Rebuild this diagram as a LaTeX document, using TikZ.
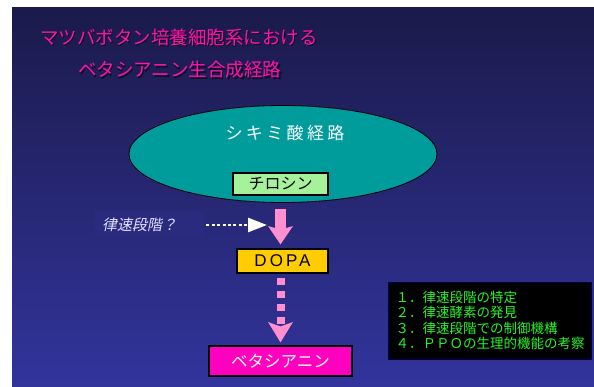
\documentclass[tikz,border=0pt]{standalone}
\usepackage{fontspec}
\usetikzlibrary{shapes.geometric,arrows.meta,calc}
\newfontfamily\jp{Noto Sans CJK JP}
\newfontfamily\jpsp[LetterSpace=20]{Noto Sans CJK JP}
\newfontfamily\lat[LetterSpace=18]{Liberation Sans}
\definecolor{bgtop}{HTML}{1B1A4B}
\definecolor{bgbot}{HTML}{32349C}
\definecolor{tealc}{HTML}{009B9B}
\definecolor{tyrc}{HTML}{A6F29A}
\definecolor{dopac}{HTML}{FFCC00}
\definecolor{betac}{HTML}{FF00BF}
\definecolor{pinkc}{HTML}{FF8FCF}
\definecolor{greenc}{HTML}{2AF02A}
\definecolor{titlec}{HTML}{FF14A8}
\definecolor{labbg}{HTML}{2A2B7E}
\definecolor{shadowc}{HTML}{10081E}
\tikzset{
  titletext/.style={anchor=west,inner sep=0pt,font=\jp\fontsize{18.5pt}{20pt}\selectfont},
  sbox/.style={draw=black,line width=1.1pt,inner sep=0pt},
}
\begin{document}
\begin{tikzpicture}[x=1pt,y=-1pt]
\useasboundingbox (0,0) rectangle (594,387);
\fill[white] (0,0) rectangle (594,387);
\shade[top color=bgtop,bottom color=bgbot] (12,8) rectangle (594,387);
% title
\node[titletext,text=shadowc] (t1s) at (41.2,38.2) {マツバボタン培養細胞系における};
\node[titletext,text=titlec] (t1) at (40,37) {マツバボタン培養細胞系における};
\node[titletext,text=shadowc] (t2s) at (79.2,71.2) {ベタシアニン生合成経路};
\node[titletext,text=titlec] (t2) at (78,70) {ベタシアニン生合成経路};
% ellipse
\node[ellipse,draw=black,line width=0.8pt,fill=tealc,minimum width=308pt,minimum height=97pt,inner sep=0pt] (ell) at (283,154) {};
\node[text=white,font=\jpsp\fontsize{17pt}{19pt}\selectfont,inner sep=0pt] (shik) at (285,133) {シキミ酸経路};
\node[sbox,fill=tyrc,minimum width=95pt,minimum height=22pt,font=\jp\fontsize{16pt}{18pt}\selectfont] (tyr) at (280.5,184) {チロシン};
\node[sbox,fill=dopac,minimum width=91pt,minimum height=24pt,font=\lat\fontsize{17pt}{19pt}\selectfont] (dopa) at (282.5,261) {DOPA};
\node[sbox,fill=betac,text=white,minimum width=143pt,minimum height=30pt,font=\jp\fontsize{16.5pt}{18pt}\selectfont] (beta) at (280.5,361) {ベタシアニン};
% label
\node[fill=labbg,anchor=west,minimum width=109pt,minimum height=27pt,inner xsep=7pt,inner ysep=0pt,text width=95pt,align=left,text=white!88!blue,font=\jp\addfontfeature{FakeSlant=0.2}\fontsize{15pt}{17pt}\selectfont] (lab) at (95,225) {律速段階？};
\coordinate (hit) at (267,225);
% arrows
\draw[pinkc,line width=11pt,-{Stealth[width=24pt,length=18pt,inset=3pt]}] ($(ell.south -| tyr.south)+(0,6)$) -- ($(dopa.north -| tyr.south)+(0,-4)$);
\draw[pinkc,line width=8pt,dash pattern=on 7pt off 6pt,-{Stealth[width=24pt,length=20pt,inset=4pt]}] ($(dopa.south -| beta.north)+(0,4)$) -- ($(beta.north)+(0,-3)$);
\draw[white,line width=2.8pt,dash pattern=on 3pt off 2.4pt,-{Triangle[width=14pt,length=19pt]}] ($(lab.east)+(2,0)$) -- (hit);
% list box
\node[draw=black!70!blue,line width=1pt,fill=black,anchor=west,minimum width=203pt,minimum height=77pt,inner xsep=7pt,text width=189pt,align=left,text=greenc,font=\jp\fontsize{13.5pt}{15.4pt}\selectfont] (list) at (388,320.5) {１．律速段階の特定\\２．律速酵素の発見\\３．律速段階での制御機構\\４．ＰＰＯの生理的機能の考察};
\end{tikzpicture}
\end{document}
